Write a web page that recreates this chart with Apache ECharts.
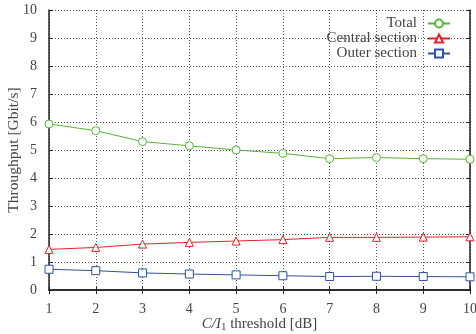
<!DOCTYPE html>
<html>
<head>
<meta charset="utf-8">
<script src="https://cdn.jsdelivr.net/npm/echarts@6/dist/echarts.min.js"></script>
<style>
  html, body { margin: 0; padding: 0; background: #fff; }
  #chart { width: 476px; height: 334px; }
</style>
</head>
<body>
<div id="chart"></div>
<script>
// C/I1 threshold in dB
const thresholds = [1, 2, 3, 4, 5, 6, 7, 8, 9, 10];
const total = [5.93, 5.69, 5.30, 5.15, 5.00, 4.88, 4.69, 4.73, 4.69, 4.67];
const central = [1.45, 1.52, 1.64, 1.70, 1.75, 1.80, 1.88, 1.88, 1.89, 1.90];
const outer = [0.74, 0.69, 0.61, 0.57, 0.54, 0.51, 0.48, 0.49, 0.48, 0.47];

const serif = "Liberation Serif";
const textColor = "#444";

const chart = echarts.init(document.getElementById("chart"));

function pairs(ys) {
  return thresholds.map((x, i) => [x, ys[i]]);
}

const gridLine = {
  show: true,
  lineStyle: { type: [1, 2], color: "#555", width: 1 },
};

function lineSeries(name, ys, color, symbol) {
  return {
    name: name,
    type: "line",
    data: pairs(ys),
    symbol: symbol,
    symbolSize: 8,
    lineStyle: { width: 1, color: color },
    itemStyle: { color: "#fff", borderColor: color, borderWidth: 1 },
  };
}

chart.setOption({
  animation: false,
  grid: { left: 49, right: 6, top: 10, bottom: 44, outerBoundsMode: "none", containLabel: false },
  legend: {
    right: 20,
    top: 11,
    orient: "vertical",
    align: "right",
    itemGap: 0,
    itemWidth: 22,
    itemHeight: 10,
    textStyle: { fontFamily: serif, fontSize: 15, color: textColor, padding: [0, 6, 0, 0] },
    data: ["Total", "Central section", "Outer section"],
  },
  xAxis: [
    {
      type: "value",
      min: 1,
      max: 10,
      interval: 1,
      name: "{i|C/I}{s|1} threshold [dB]",
      nameLocation: "middle",
      nameGap: 26,
      nameMoveOverlap: false,
      nameTextStyle: {
        fontFamily: serif,
        fontSize: 15,
        color: textColor,
        rich: {
          i: { fontFamily: serif, fontStyle: "italic", fontSize: 15, color: textColor },
          s: { fontFamily: serif, fontSize: 11, color: textColor, padding: [6, 0, 0, 0] },
        },
      },
      axisLine: { lineStyle: { color: "#222", width: 1.5 } },
      axisTick: { inside: true, length: 4, lineStyle: { color: "#222" } },
      axisLabel: { fontFamily: serif, fontSize: 14, color: textColor, margin: 12 },
      splitLine: gridLine,
    },
    {
      type: "value",
      position: "top",
      min: 1,
      max: 10,
      interval: 1,
      axisLine: { show: true, lineStyle: { color: "#222", width: 1.5 } },
      axisTick: { show: true, inside: true, length: 4, lineStyle: { color: "#222" } },
      axisLabel: { show: false },
      splitLine: { show: false },
    },
  ],
  yAxis: [
    {
      type: "value",
      min: 0,
      max: 10,
      interval: 1,
      name: "Throughput [Gbit/s]",
      nameLocation: "middle",
      nameGap: 27,
      nameMoveOverlap: false,
      nameTextStyle: { fontFamily: serif, fontSize: 15.5, color: textColor },
      axisLine: { show: true, lineStyle: { color: "#222", width: 1.5 } },
      axisTick: { show: true, inside: true, length: 4, lineStyle: { color: "#222" } },
      axisLabel: { fontFamily: serif, fontSize: 14, color: textColor, margin: 12 },
      splitLine: gridLine,
    },
    {
      type: "value",
      position: "right",
      min: 0,
      max: 10,
      interval: 1,
      axisLine: { show: true, lineStyle: { color: "#222", width: 1.5 } },
      axisTick: { show: true, inside: true, length: 4, lineStyle: { color: "#222" } },
      axisLabel: { show: false },
      splitLine: { show: false },
    },
  ],
  series: [
    lineSeries("Total", total, "#55b534", "circle"),
    lineSeries("Central section", central, "#e4202a", "triangle"),
    lineSeries("Outer section", outer, "#3050a0", "rect"),
  ],
});
</script>
</body>
</html>
